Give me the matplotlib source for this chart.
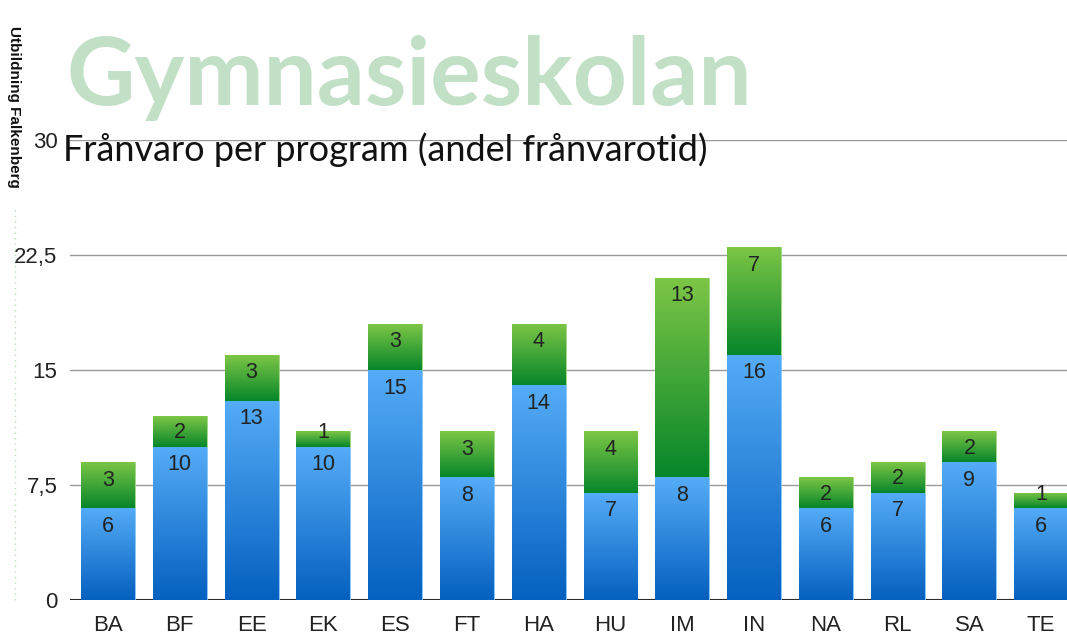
import numpy as np
import matplotlib
matplotlib.use("Agg")
import matplotlib.pyplot as plt
from matplotlib.colors import LinearSegmentedColormap

programs = ["BA", "BF", "EE", "EK", "ES", "FT", "HA", "HU", "IM", "IN", "NA", "RL", "SA", "TE"]
base_vals = [6, 10, 13, 10, 15, 8, 14, 7, 8, 16, 6, 7, 9, 6]
extra_vals = [3, 2, 3, 1, 3, 3, 4, 4, 13, 7, 2, 2, 2, 1]
yticks = [0, 7.5, 15, 22.5, 30]
ytick_labels = ["0", "7,5", "15", "22,5", "30"]

fig = plt.figure(figsize=(10.67, 6.35), dpi=100)
ax = fig.add_axes([70 / 1067, 35 / 635, 1 - 70 / 1067, 460 / 635])

x = np.arange(len(programs))
width = 0.75
blue_cmap = LinearSegmentedColormap.from_list("b", ["#0560bf", "#55acf7"])
green_cmap = LinearSegmentedColormap.from_list("g", ["#06862a", "#7dc646"])
grad = np.linspace(0, 1, 256).reshape(-1, 1)

bars1 = ax.bar(x, base_vals, width, color="#3a8fe6", edgecolor="#8cc6f7", linewidth=0.6, zorder=3)
bars2 = ax.bar(x, extra_vals, width, bottom=base_vals, color="#3aa33a", edgecolor="#a5d98a", linewidth=0.6, zorder=3)

for bars, cmap in ((bars1, blue_cmap), (bars2, green_cmap)):
    for b in bars:
        x0, y0 = b.get_x(), b.get_y()
        w, h = b.get_width(), b.get_height()
        im = ax.imshow(grad, cmap=cmap, extent=[x0, x0 + w, y0, y0 + h], origin="lower",
                       aspect="auto", zorder=3.5, interpolation="bilinear")
        im.set_clip_path(b)

ax.set_xlim(-0.53, 13.36)
ax.set_ylim(0, 30)

px_per_unit = 460 / 30
for bars, vals in ((bars1, base_vals), (bars2, extra_vals)):
    for b, v in zip(bars, vals):
        seg_px = v * px_per_unit
        off_px = min(18, seg_px - 14)
        ax.annotate(str(v), (b.get_x() + b.get_width() / 2, b.get_y() + b.get_height()),
                    xytext=(0, -off_px * 0.72), textcoords="offset points",
                    ha="center", va="center", fontsize=15.5, color="#222222", zorder=5,
                    family="Liberation Sans")

ax.set_yticks(yticks)
ax.set_yticklabels(ytick_labels, fontsize=16, color="#222222", family="Liberation Sans")
ax.set_xticks(x)
ax.set_xticklabels(programs, fontsize=16, color="#222222", family="Liberation Sans")
ax.tick_params(axis="both", length=0)
ax.tick_params(axis="y", pad=9)
ax.tick_params(axis="x", pad=11)
ax.grid(axis="y", color="#9a9a9a", linewidth=1.0, zorder=0)
ax.axhline(0, color="#111111", linewidth=1.5, zorder=1)
for s in ax.spines.values():
    s.set_visible(False)

fig.text(66 / 1067, 1 - 78 / 635, "Gymnasieskolan", fontsize=68, fontweight="bold",
         color="#c2e0c6", family="Lato", ha="left", va="center")
fig.text(63 / 1067, 1 - 150 / 635, "Frånvaro per program (andel frånvarotid)", fontsize=26,
         color="#111111", family="Lato", ha="left", va="center")
fig.text(14 / 1067, 1 - 107 / 635, "Utbildning Falkenberg", fontsize=11, fontweight="bold",
         rotation=-90, color="#111111", family="Liberation Sans", ha="center", va="center")
fig.add_artist(plt.Line2D([15 / 1067, 15 / 1067], [35 / 635, 1 - 208 / 635],
                          transform=fig.transFigure, color="#b5dcb5", linewidth=1,
                          linestyle=(0, (1, 3))))

fig.savefig("out.png", dpi=100)
